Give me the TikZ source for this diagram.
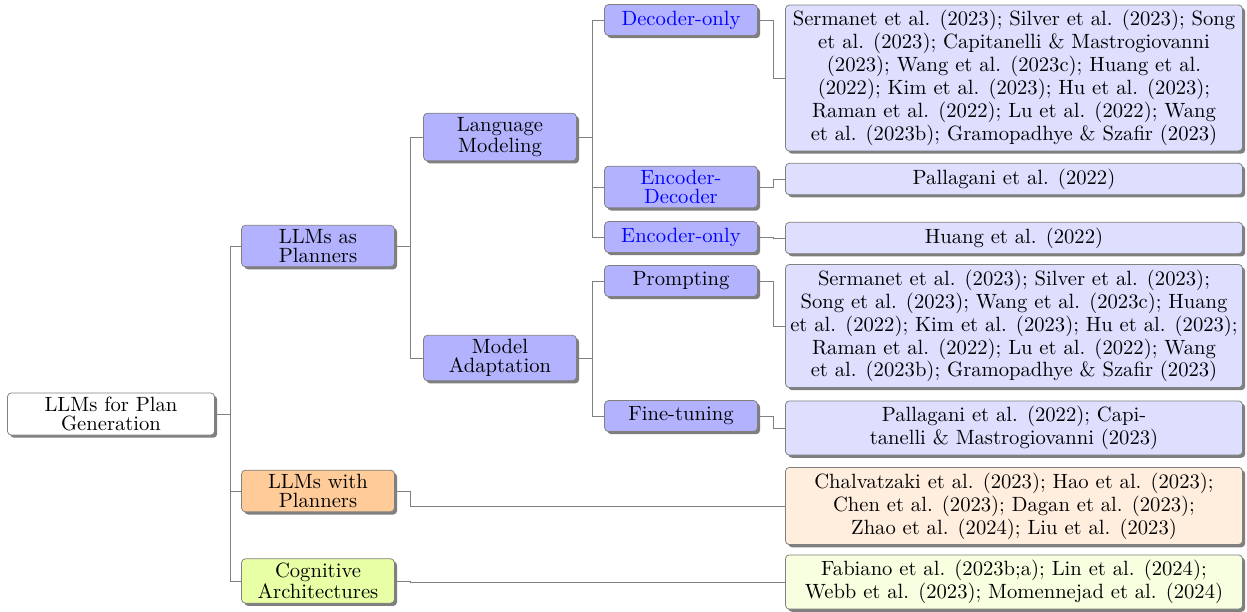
\documentclass[tikz,border=0pt]{standalone}
\usepackage{amsmath}
\usepackage{amssymb}
\usepackage{tikz}
\usepackage{xcolor}
\usetikzlibrary{shadows}

\begin{document}
\begin{tikzpicture}[x=0.5236pt,y=-0.5236pt,
        box/.style={draw=black!50, rounded corners=2pt, align=center,
            drop shadow={shadow xshift=1.4pt, shadow yshift=-1.4pt, fill=black, opacity=0.5}},
        cat/.style={box, fill=blue!30, minimum width=80pt, minimum height=16.2pt,
            inner ysep=2.3pt, font=\fontsize{10.8pt}{9.6pt}\selectfont},
        leaf/.style={box, fill=blue!13, minimum width=239.3pt, inner ysep=2.8pt, inner xsep=2pt,
            font=\fontsize{10.8pt}{12pt}\selectfont},
        edge/.style={draw=black!50, line width=0.5pt}]
        \useasboundingbox (0,0) rectangle (1247,612);
        % tree
        \node[cat, fill=white, minimum width=108.4pt] (root) at (111,414) {LLMs for Plan\\Generation};
        \node[cat] (planners) at (318,246) {LLMs as\\Planners};
        \node[cat, fill=orange!40] (withpl) at (318,491) {LLMs with\\Planners};
        \node[cat, fill=lime!35] (cogarch) at (318,581) {Cognitive\\Architectures};
        \node[cat] (langmod) at (500,137) {Language\\Modeling};
        \node[cat] (modadapt) at (500,358) {Model\\Adaptation};
        \node[cat, text=blue] (deconly) at (681,20) {Decoder-only};
        \node[cat, text=blue] (encdec) at (681,187) {Encoder-\\Decoder};
        \node[cat, text=blue] (enconly) at (681,237) {Encoder-only};
        \node[cat] (prompt) at (681,281) {Prompting};
        \node[cat] (finetune) at (681,416) {Fine-tuning};
        % leaves
        \node[leaf] (ldec) at (1014,78) {Sermanet et al. (2023); Silver et al. (2023); Song\\
            et al. (2023); Capitanelli \& Mastrogiovanni\\
            (2023); Wang et al. (2023c); Huang et al.\\
            (2022); Kim et al. (2023); Hu et al. (2023);\\
            Raman et al. (2022); Lu et al. (2022); Wang\\
            et al. (2023b); Gramopadhye \& Szafir (2023)};
        \node[leaf] (lencdec) at (1014,179) {Pallagani et al. (2022)};
        \node[leaf] (lenc) at (1014,238) {Huang et al. (2022)};
        \node[leaf] (lprompt) at (1014,326) {Sermanet et al. (2023); Silver et al. (2023);\\
            Song et al. (2023); Wang et al. (2023c); Huang\\
            et al. (2022); Kim et al. (2023); Hu et al. (2023);\\
            Raman et al. (2022); Lu et al. (2022); Wang\\
            et al. (2023b); Gramopadhye \& Szafir (2023)};
        \node[leaf] (lfine) at (1014,428) {Pallagani et al. (2022); Capi-\\
            tanelli \& Mastrogiovanni (2023)};
        \node[leaf, fill=orange!13] (lwith) at (1014,506) {Chalvatzaki et al. (2023); Hao et al. (2023);\\
            Chen et al. (2023); Dagan et al. (2023);\\
            Zhao et al. (2024); Liu et al. (2023)};
        \node[leaf, fill=lime!12] (lcog) at (1014,582) {Fabiano et al. (2023b;a); Lin et al. (2024);\\
            Webb et al. (2023); Momennejad et al. (2024)};
        % forked edges
        \foreach \a/\b in {root/planners, root/withpl, root/cogarch,
                planners/langmod, planners/modadapt,
                langmod/deconly, langmod/encdec, langmod/enconly,
                modadapt/prompt, modadapt/finetune,
                deconly/ldec, encdec/lencdec, enconly/lenc,
                prompt/lprompt, finetune/lfine,
                withpl/lwith, cogarch/lcog}
            \draw[edge] (\a.east) -- ++(8.4pt,0) |- (\b.west);
    \end{tikzpicture}
\end{document}
